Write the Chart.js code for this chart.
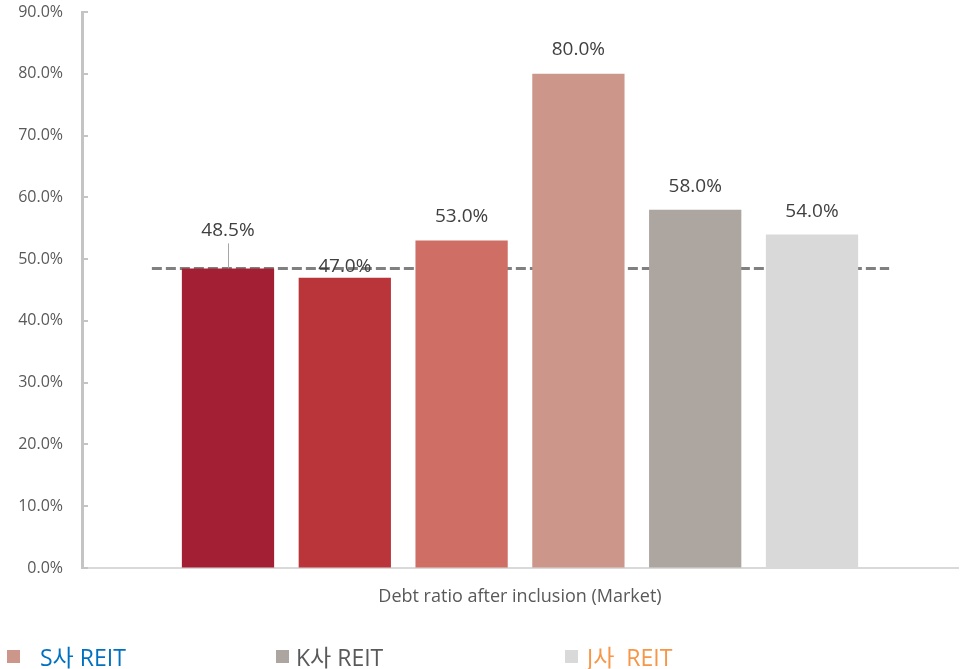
<!DOCTYPE html>
<html lang="ko-kr">
<head>
    <meta charset="UTF-8">
    <title>Debt ratio after inclusion</title>
    <script src="https://cdn.jsdelivr.net/npm/chart.js"></script>
    <style>
        body { margin: 0; background: #fff; }
        #wrap { position: relative; width: 961px; height: 669px; overflow: hidden; }
        .lg { position: absolute; top: 642px; font-family: 'Open Sans', 'Noto Sans CJK KR', sans-serif; font-size: 23px; line-height: 30px; white-space: pre; }
    </style>
</head>
<body>
<div id="wrap">
    <canvas id="debtChart" width="961" height="669"></canvas>
    <div id="legend"></div>
</div>

<script>
    // 카테고리 / 시리즈 데이터
    const categories = ['Debt ratio after inclusion (Market)'];
    const seriesNames = ['', '', '', 'S사 REIT', 'K사 REIT', 'J사  REIT'];
    const seriesValues = [48.5, 47.0, 53.0, 80.0, 58.0, 54.0];
    const barColors = ['#A31F34', '#B9353A', '#CE6E65', '#CC978A', '#ADA59F', '#D9D9D9'];
    const legendTextColors = ['', '', '', '#0070C0', '#595959', '#F79646'];
    const refLineValue = 48.5;
    const yTicks = { min: 0, max: 90, step: 10 };

    // 라벨 위치 조정 (막대 위쪽 여백)
    const labelOffsets = [38, 11, 24, 24, 23, 23];
    const legendBoxX = [7, 276, 565];
    const legendTextX = [40, 296, 587];

    const FONT = "'Open Sans', 'Noto Sans CJK KR', sans-serif";

    // 기준선 (점선) - 막대 뒤에 그림
    const refLine = {
        id: 'refLine',
        beforeDatasetsDraw(chart) {
            const y = chart.scales.y.getPixelForValue(refLineValue);
            const first = chart.getDatasetMeta(0).data[0];
            const last = chart.getDatasetMeta(seriesValues.length - 1).data[0];
            const ctx = chart.ctx;
            ctx.save();
            ctx.strokeStyle = '#808080';
            ctx.lineWidth = 3;
            ctx.setLineDash([10, 4]);
            ctx.beginPath();
            ctx.moveTo(first.x - first.width / 2 - 30, y);
            ctx.lineTo(last.x + last.width / 2 + 31, y);
            ctx.stroke();
            ctx.restore();
        }
    };

    // y축 안쪽 눈금
    const innerTicks = {
        id: 'innerTicks',
        afterDraw(chart) {
            const s = chart.scales.y;
            const ctx = chart.ctx;
            ctx.save();
            ctx.strokeStyle = '#c4c4c4';
            ctx.lineWidth = 2;
            s.ticks.forEach((t, i) => {
                const y = Math.round(s.getPixelForTick(i));
                ctx.beginPath();
                ctx.moveTo(s.right, y);
                ctx.lineTo(s.right + 6, y);
                ctx.stroke();
            });
            ctx.restore();
        }
    };

    // 값 라벨
    const valueLabels = {
        id: 'valueLabels',
        afterDatasetsDraw(chart) {
            const ctx = chart.ctx;
            ctx.save();
            ctx.font = '19px ' + FONT;
            ctx.fillStyle = '#404040';
            ctx.textAlign = 'center';
            ctx.textBaseline = 'middle';
            chart.data.datasets.forEach((ds, i) => {
                const el = chart.getDatasetMeta(i).data[0];
                const ly = el.y - labelOffsets[i];
                if (labelOffsets[i] > 30) {
                    ctx.strokeStyle = '#a6a6a6';
                    ctx.lineWidth = 1;
                    ctx.beginPath();
                    ctx.moveTo(el.x + 0.5, ly + 13);
                    ctx.lineTo(el.x + 0.5, el.y);
                    ctx.stroke();
                }
                ctx.fillText(ds.data[0].toFixed(1) + '%', el.x, ly);
            });
            ctx.restore();
        }
    };

    const datasets = seriesValues.map((v, i) => ({
        label: seriesNames[i] || ('series' + (i + 1)),
        data: [v],
        backgroundColor: barColors[i],
        borderWidth: 0,
        categoryPercentage: 0.8,
        barPercentage: 0.79
    }));

    const ctx = document.getElementById('debtChart').getContext('2d');
    const debtChart = new Chart(ctx, {
        type: 'bar',
        data: { labels: categories, datasets: datasets },
        plugins: [refLine, innerTicks, valueLabels],
        options: {
            responsive: false,
            animation: false,
            layout: { padding: { top: 12, right: 3, left: 0, bottom: 0 } },
            plugins: {
                legend: { display: false },
                tooltip: { enabled: false }
            },
            scales: {
                x: {
                    grid: { drawOnChartArea: false, drawTicks: false },
                    border: { display: true, color: '#d9d9d9', width: 2 },
                    ticks: { color: '#595959', font: { family: FONT, size: 18 }, padding: 18 },
                    afterFit(s) { s.height = 101; }
                },
                y: {
                    min: yTicks.min,
                    max: yTicks.max,
                    grid: { drawOnChartArea: false, drawTicks: false },
                    border: { display: true, color: '#c4c4c4', width: 3 },
                    ticks: {
                        stepSize: yTicks.step,
                        color: '#595959',
                        font: { family: FONT, size: 16 },
                        padding: 19,
                        callback: v => v.toFixed(1) + '%'
                    },
                    afterFit(s) { s.width = 82; s.paddingTop = 0; s.paddingBottom = 0; }
                }
            }
        }
    });

    // 범례 (세 항목만 표시)
    const legendEl = document.getElementById('legend');
    let k = 0;
    seriesNames.forEach((name, i) => {
        if (!name) return;
        const sq = document.createElement('i');
        sq.style.cssText = 'position:absolute;top:650px;width:13px;height:13px;left:' + legendBoxX[k] + 'px;background:' + barColors[i];
        const d = document.createElement('div');
        d.className = 'lg';
        d.style.left = legendTextX[k] + 'px';
        d.style.color = legendTextColors[i];
        d.textContent = name;
        legendEl.appendChild(sq);
        legendEl.appendChild(d);
        k++;
    });
</script>
</body>
</html>
